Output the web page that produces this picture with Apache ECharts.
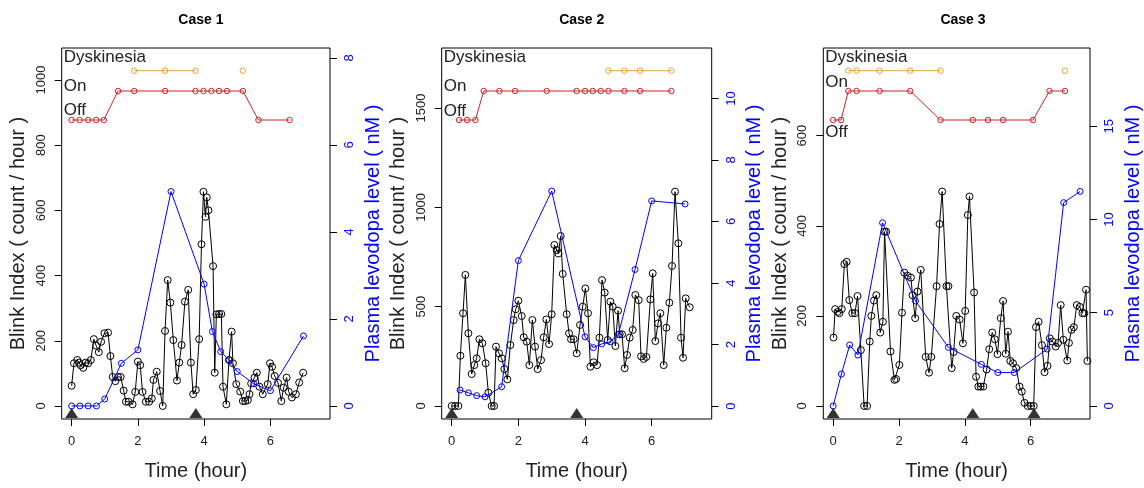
<!DOCTYPE html>
<html><head><meta charset="utf-8">
<script src="https://cdn.jsdelivr.net/npm/echarts@6/dist/echarts.min.js"></script>
<style>html,body{margin:0;padding:0;background:#fff}#c{width:1144px;height:488px}</style>
</head><body><div id="c"></div>
<script>
// ---------- DATA ----------
const caseTitles = ['Case 1', 'Case 2', 'Case 3'];
const xTickValues = [0, 2, 4, 6];
const leftTickValues = [[0, 200, 400, 600, 800, 1000], [0, 500, 1000, 1500], [0, 200, 400, 600]];
const rightTickValues = [[0, 2, 4, 6, 8], [0, 2, 4, 6, 8, 10], [0, 5, 10, 15]];
const stateLabels = ['Dyskinesia', 'On', 'Off'];
const stateLevel = { Off: 0, On: 1, Dyskinesia: 1.7 };

// Blink index [time (h), count/hour]
const case1Blink = [[0.00,62],[0.07,131],[0.17,141],[0.22,133],[0.27,125],[0.35,117],[0.42,133],[0.50,131],[0.58,141],[0.67,205],[0.74,185],[0.82,165],[0.89,197],[0.99,223],[1.10,225],[1.17,153],[1.24,89],[1.32,76],[1.40,89],[1.48,89],[1.57,47],[1.64,13],[1.72,13],[1.84,5],[1.92,43],[2.00,136],[2.07,125],[2.14,43],[2.24,13],[2.34,13],[2.42,23],[2.47,80],[2.57,105],[2.67,46],[2.75,0],[2.82,230],[2.90,386],[2.98,317],[3.07,202],[3.18,78],[3.25,133],[3.32,187],[3.42,320],[3.52,356],[3.60,133],[3.67,36],[3.75,49],[3.85,205],[3.92,496],[3.98,657],[4.04,580],[4.08,640],[4.13,600],[4.27,429],[4.32,102],[4.37,281],[4.45,282],[4.52,282],[4.57,59],[4.67,5],[4.75,141],[4.83,228],[4.87,131],[4.97,67],[5.09,44],[5.17,15],[5.24,15],[5.32,18],[5.37,36],[5.42,69],[5.52,87],[5.59,102],[5.67,59],[5.77,36],[5.92,67],[5.99,131],[6.05,120],[6.13,92],[6.23,71],[6.33,15],[6.40,56],[6.49,87],[6.55,44],[6.65,26],[6.77,36],[6.87,72],[6.99,102]];
const case2Blink = [[0.00,0],[0.10,0],[0.20,0],[0.26,253],[0.34,467],[0.41,660],[0.50,366],[0.60,161],[0.68,206],[0.75,240],[0.83,336],[0.92,316],[1.02,215],[1.10,67],[1.20,0],[1.27,0],[1.33,299],[1.42,265],[1.50,240],[1.58,186],[1.67,134],[1.76,307],[1.86,433],[1.92,487],[2.00,530],[2.10,453],[2.16,346],[2.25,324],[2.33,206],[2.42,433],[2.50,299],[2.58,186],[2.68,231],[2.76,346],[2.84,436],[2.92,312],[3.00,462],[3.08,811],[3.15,785],[3.20,768],[3.27,856],[3.33,665],[3.45,462],[3.52,366],[3.58,336],[3.66,336],[3.75,265],[3.85,408],[3.93,500],[4.01,592],[4.09,467],[4.16,198],[4.26,220],[4.36,206],[4.43,344],[4.51,634],[4.59,571],[4.68,332],[4.76,525],[4.83,500],[4.91,302],[4.99,480],[5.04,361],[5.11,361],[5.19,190],[5.26,257],[5.34,344],[5.43,383],[5.51,559],[5.61,533],[5.68,250],[5.76,237],[5.84,247],[5.96,537],[6.03,668],[6.11,327],[6.19,416],[6.26,467],[6.36,206],[6.44,394],[6.53,520],[6.61,705],[6.70,1079],[6.80,819],[6.88,344],[6.94,243],[7.02,542],[7.14,497]];
const case3Blink = [[0.01,152],[0.06,215],[0.14,209],[0.19,206],[0.26,215],[0.34,315],[0.41,320],[0.49,235],[0.58,206],[0.66,206],[0.74,244],[0.84,124],[0.94,0],[1.03,0],[1.11,143],[1.16,200],[1.24,234],[1.31,246],[1.43,163],[1.51,187],[1.56,387],[1.61,387],[1.74,121],[1.86,58],[1.91,60],[2.01,91],[2.09,207],[2.16,296],[2.26,289],[2.36,285],[2.41,246],[2.49,195],[2.56,254],[2.66,302],[2.81,109],[2.91,74],[2.98,109],[3.14,266],[3.23,404],[3.31,476],[3.44,266],[3.50,266],[3.60,84],[3.66,120],[3.74,200],[3.84,192],[3.94,139],[4.01,211],[4.09,424],[4.14,465],[4.28,252],[4.34,65],[4.41,43],[4.48,43],[4.56,43],[4.66,81],[4.74,126],[4.83,163],[4.91,148],[4.99,115],[5.09,195],[5.16,233],[5.24,116],[5.31,165],[5.38,100],[5.46,95],[5.56,84],[5.66,43],[5.73,32],[5.81,7],[5.91,0],[6.01,0],[6.09,0],[6.16,175],[6.24,187],[6.34,135],[6.42,75],[6.51,89],[6.58,150],[6.66,143],[6.76,132],[6.83,140],[6.91,224],[6.99,147],[7.11,101],[7.16,140],[7.24,169],[7.31,175],[7.40,224],[7.49,220],[7.57,206],[7.63,206],[7.68,258],[7.72,100]];

// Plasma levodopa [time (h), nM]
const case1Plasma = [[0,0],[0.25,0],[0.5,0],[0.75,0],[1.0,0.16],[1.5,0.98],[2.0,1.29],[3.0,4.93],[4.0,2.8],[4.25,1.71],[4.5,1.25],[4.75,1.06],[5.0,0.79],[5.5,0.51],[6.0,0.35],[7.0,1.61]];
const case2Plasma = [[0.25,0.52],[0.5,0.43],[0.75,0.34],[1.0,0.30],[1.5,0.63],[2.0,4.73],[3.0,6.99],[4.0,2.25],[4.25,1.90],[4.5,2.02],[4.75,2.09],[5.0,2.33],[5.5,4.44],[6.0,6.67],[7.0,6.57]];
const case3Plasma = [[0,0],[0.25,1.71],[0.5,3.27],[0.75,2.73],[1.5,9.82],[2.5,5.63],[3.5,3.14],[4.5,2.23],[5.0,1.79],[5.5,1.79],[6.5,3.05],[7.0,10.9],[7.5,11.5]];

// Clinical state ratings
const case1StateTimes = [0,0.24,0.5,0.74,0.97,1.40,1.89,2.82,3.74,3.98,4.22,4.45,4.69,5.17,5.64,6.58];
const case1States = ['Off','Off','Off','Off','Off','On','On','On','On','On','On','On','On','On','Off','Off'];
const case1Dysk = [0,0,0,0,0,0,1,1,1,0,0,0,0,1,0,0];
const case2StateTimes = [0.22,0.46,0.71,0.96,1.43,1.90,2.85,3.75,4.00,4.23,4.47,4.70,5.18,5.65,6.59];
const case2States = ['Off','Off','Off','On','On','On','On','On','On','On','On','On','On','On','On'];
const case2Dysk = [0,0,0,0,0,0,0,0,0,0,0,1,1,1,1];
const case3StateTimes = [0,0.24,0.46,0.71,1.41,2.34,3.26,4.24,4.70,5.16,6.07,6.57,7.04];
const case3States = ['Off','Off','On','On','On','On','Off','Off','Off','Off','Off','On','On'];
const case3Dysk = [0,0,1,1,1,1,1,0,0,0,0,0,1];

// Dosing times (h)
const case1Doses = [0, 3.75];
const case2Doses = [0, 3.75];
const case3Doses = [0, 4.24, 6.1];

// ---------- LAYOUT ----------
const FONT = '"Liberation Sans", Arial, sans-serif';
const cases = [
  { blink: case1Blink, plasma: case1Plasma, st: case1StateTimes, s: case1States, d: case1Dysk, dose: case1Doses,
    left: 61.7, width: 268.3, yl: [-40, 1098], yr: [-0.3, 8.23], lab: [57, 86, 110] },
  { blink: case2Blink, plasma: case2Plasma, st: case2StateTimes, s: case2States, d: case2Dysk, dose: case2Doses,
    left: 441.7, width: 270, yl: [-65.5, 1802.6], yr: [-0.42, 11.64], lab: [57, 86, 111] },
  { blink: case3Blink, plasma: case3Plasma, st: case3StateTimes, s: case3States, d: case3Dysk, dose: case3Doses,
    left: 823.3, width: 269.4, yl: [-28.9, 794.7], yr: [-0.70, 19.19], lab: [57, 82, 132] }
];
const GTOP = 48, GH = 371;
const statusMin = -10.31, statusMax = 2.483, doseLevel = -10.1;
const plain = v => String(v);

const grid = [], xAxis = [], yAxis = [], series = [], title = [], graphic = [];
cases.forEach((c, i) => {
  grid.push({ left: c.left, top: GTOP, width: c.width, height: GH, show: true, borderColor: '#000', borderWidth: 1, backgroundColor: 'transparent' });
  title.push({ text: caseTitles[i], left: c.left + c.width / 2, top: 8, textAlign: 'center',
    textStyle: { fontFamily: FONT, fontSize: 14, fontWeight: 'bold', color: '#000' } });
  xAxis.push({ type: 'value', gridIndex: i, min: -0.3, max: 7.8, position: 'bottom',
    name: 'Time (hour)', nameLocation: 'middle', nameGap: 42,
    nameTextStyle: { fontFamily: FONT, fontSize: 20, color: '#222' },
    axisLine: { show: false, onZero: false }, splitLine: { show: false },
    axisTick: { show: true, inside: false, length: 7, customValues: xTickValues, lineStyle: { color: '#000' } },
    axisLabel: { customValues: xTickValues, formatter: plain, margin: 16, fontFamily: FONT, fontSize: 13, color: '#222' } });
  yAxis.push({ type: 'value', gridIndex: i, position: 'left', min: c.yl[0], max: c.yl[1],
    name: 'Blink Index ( count / hour )', nameLocation: 'middle', nameGap: 33, nameRotate: 90,
    nameTextStyle: { fontFamily: FONT, fontSize: 20, color: '#222' },
    axisLine: { show: false, onZero: false }, splitLine: { show: false },
    axisTick: { show: true, inside: false, length: 7, customValues: leftTickValues[i], lineStyle: { color: '#000' } },
    axisLabel: { customValues: leftTickValues[i], formatter: plain, rotate: 90, margin: 14, fontFamily: FONT, fontSize: 13, color: '#222' } });
  yAxis.push({ type: 'value', gridIndex: i, position: 'right', min: c.yr[0], max: c.yr[1],
    name: 'Plasma levodopa level ( nM )', nameLocation: 'middle', nameGap: 33, nameRotate: 90,
    nameTextStyle: { fontFamily: FONT, fontSize: 20, color: '#0000FF' },
    axisLine: { show: false, onZero: false }, splitLine: { show: false },
    axisTick: { show: true, inside: false, length: 7, customValues: rightTickValues[i], lineStyle: { color: '#000' } },
    axisLabel: { customValues: rightTickValues[i], formatter: plain, rotate: 90, margin: 13, fontFamily: FONT, fontSize: 13, color: '#0000FF' } });
  yAxis.push({ type: 'value', gridIndex: i, show: false, min: statusMin, max: statusMax, axisLine: { onZero: false } });

  const yi = 3 * i;
  series.push({ type: 'line', xAxisIndex: i, yAxisIndex: yi, data: c.blink, z: 2,
    symbol: 'circle', symbolSize: 7, lineStyle: { color: '#000', width: 1 },
    itemStyle: { color: 'rgba(0,0,0,0)', borderColor: '#000', borderWidth: 1 } });
  series.push({ type: 'line', xAxisIndex: i, yAxisIndex: yi + 1, data: c.plasma, z: 3,
    symbol: 'circle', symbolSize: 6, lineStyle: { color: '#0000FF', width: 1 },
    itemStyle: { color: 'rgba(0,0,0,0)', borderColor: '#0000FF', borderWidth: 1 } });
  series.push({ type: 'line', xAxisIndex: i, yAxisIndex: yi + 2, z: 3,
    data: c.st.map((t, k) => [t, stateLevel[c.s[k]]]),
    symbol: 'circle', symbolSize: 5.5, lineStyle: { color: '#CD2626', width: 1 },
    itemStyle: { color: 'rgba(0,0,0,0)', borderColor: '#CD2626', borderWidth: 1 } });
  series.push({ type: 'line', xAxisIndex: i, yAxisIndex: yi + 2, z: 3, connectNulls: false,
    data: c.st.map((t, k) => [t, c.d[k] ? stateLevel.Dyskinesia : '-']),
    symbol: 'circle', symbolSize: 5.5, lineStyle: { color: '#E3A33B', width: 1 },
    itemStyle: { color: 'rgba(0,0,0,0)', borderColor: '#E3A33B', borderWidth: 1 } });
  series.push({ type: 'scatter', xAxisIndex: i, yAxisIndex: yi + 2, z: 4,
    data: c.dose.map(t => [t, doseLevel]), symbol: 'triangle', symbolSize: [13, 10],
    itemStyle: { color: '#000' } });

  stateLabels.forEach((lbl, k) => {
    graphic.push({ type: 'text', left: c.left + 2, top: c.lab[k] - 8, z: 10,
      style: { text: lbl, fill: '#222', font: '17px ' + FONT } });
  });
});

const chart = echarts.init(document.getElementById('c'), null, { renderer: 'canvas' });
chart.setOption({ animation: false, backgroundColor: '#fff', title, grid, xAxis, yAxis, series, graphic });
</script>
</body></html>
